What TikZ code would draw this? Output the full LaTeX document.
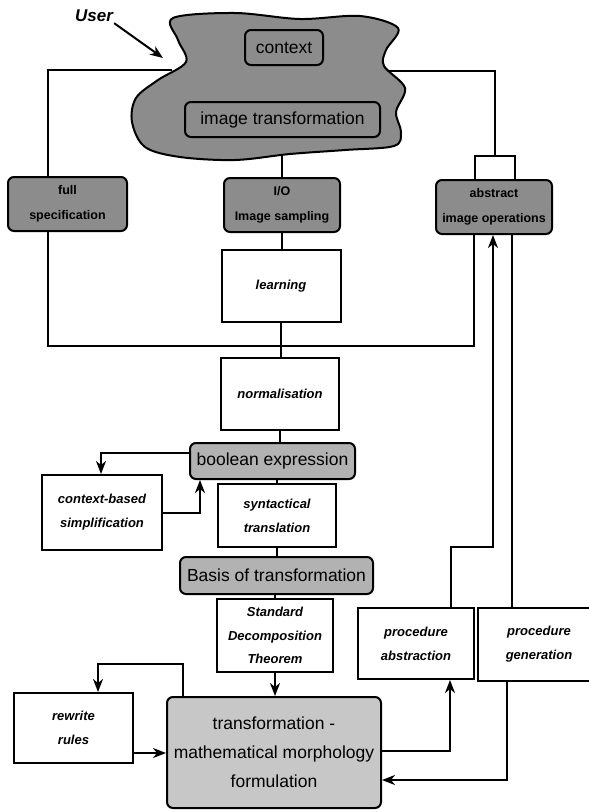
\documentclass[tikz,border=0pt]{standalone}
\usepackage{fontspec}
\setmainfont{Liberation Sans}
\usetikzlibrary{arrows.meta,calc}
\begin{document}
\begin{tikzpicture}[x=1pt,y=-1pt,
  conn/.style={line width=2pt, line join=miter},
  arr/.style={conn, -{Stealth[length=13pt,width=10pt,inset=4pt]}},
  box/.style 2 args={draw, line width=2pt, minimum width=#1pt, minimum height=#2pt, inner sep=0pt, fill=white, align=center},
  rbox/.style 2 args={box={#1}{#2}, rounded corners=6pt},
  lab/.style={font=\bfseries\itshape\fontsize{13}{24}\selectfont},
  dlab/.style={font=\bfseries\fontsize{12.5}{25}\selectfont},
  big/.style={font=\fontsize{17.5}{29}\selectfont},
  darkfill/.style={fill=black!45},
  midfill/.style={fill=black!30},
  lightfill/.style={fill=black!22}
]
\useasboundingbox (0,0) rectangle (589,812);

% cloud
\draw[line width=2pt, fill=black!45] plot[smooth cycle, tension=0.55] coordinates {
  (173,18) (235,13) (300,19) (360,16) (398,28) (386,50) (384,66) (405,88)
  (396,112) (401,132) (394,146) (345,150) (290,154) (235,160) (180,157)
  (145,147) (132,122) (136,98) (158,80) (186,62) (178,40)};
\coordinate (cl) at (172,70);
\coordinate (cr) at (388,71);
\coordinate (cb) at (282,154);

\node[rbox={78}{35}, big, fill=black!45] (ctxt) at (284,47.5) {context};
\node[rbox={195}{35}, big, fill=black!45] (imgtr) at (282.5,119.5) {image transformation};

% user
\node[font=\bfseries\itshape\fontsize{17}{20}\selectfont, inner sep=1pt] (user) at (94,16) {User};
\coordinate (ut) at (163,58);
\draw[arr] (user.south east) -- (ut);

% shaded top boxes
\node[rbox={119}{54}, dlab, darkfill] (fs) at (67.5,204) {full\\specification};
\node[rbox={116}{54}, dlab, darkfill] (io) at (282,205) {I/O\\Image sampling};
\node[rbox={116}{54}, dlab, darkfill] (abs) at (494,207) {abstract\\image operations};
\node[box={40}{24}, fill=none] (sr) at (495,168) {};

% middle column
\node[box={119}{72}, lab] (learn) at (281,286) {learning};
\node[box={118}{72}, lab] (norm) at (280,394) {normalisation};
\node[rbox={165}{36}, big, midfill] (bool) at (272.5,461) {boolean expression};
\node[box={120}{75}, lab] (ctx) at (102,512.5) {context-based\\simplification};
\node[box={118}{63}, lab] (syn) at (277,515.5) {syntactical\\translation};
\node[rbox={193}{37}, big, midfill] (basis) at (276.5,575.5) {Basis of transformation};
\node[box={116}{73}, lab, font=\bfseries\itshape\fontsize{13}{23.5}\selectfont] (sdt) at (275,635.5) {Standard\\Decomposition\\Theorem};
\node[box={116}{71}, lab] (pabs) at (416,643.5) {procedure\\abstraction};
\node[box={122}{73}, lab, text width=111pt] (pgen) at (539,644.5) {procedure\\generation};
\node[box={119}{70}, lab] (rew) at (73.5,728) {rewrite\\rules};
\node[rbox={214}{111}, big, lightfill] (trans) at (274,752.5) {transformation -\\mathematical morphology\\formulation};

% helper coordinates
\coordinate (xL) at (48,0);
\coordinate (xR) at (474,0);
\coordinate (yH) at (0,346);
\coordinate (xT) at (495,0);
\coordinate (xG) at (512,0);
\coordinate (xA) at (451,0);
\coordinate (xB) at (493,0);
\coordinate (yJ) at (0,547);
\coordinate (xC) at (450,0);
\coordinate (yC) at (0,751);
\coordinate (xD) at (507,0);
\coordinate (yD) at (0,780);
\coordinate (yE) at (0,753);
\coordinate (xF) at (183,0);
\coordinate (yF) at (0,664);
\coordinate (xF2) at (98,0);
\coordinate (yB) at (0,453);
\coordinate (xB2) at (101,0);
\coordinate (yG) at (0,513);
\coordinate (xG2) at (200,0);

% top loop
\draw[conn] (cl) -| (xL |- fs.north);
\draw[conn] (xL |- fs.south) -- (xL |- yH) -- (xR |- yH) -- (xR |- abs.south);
\draw[conn] (cr) -| (xT |- sr.north);
\draw[conn] (xG |- abs.south) -- (xG |- pgen.north);

% centre column
\draw[conn] (cb) -- (io.north);
\draw[conn] (io.south) -- (io.south |- learn.north);
\draw[conn] (learn.south) -- (learn.south |- norm.north);
\draw[conn] (norm.south) -- (norm.south |- bool.north);
\draw[conn] (syn.north |- bool.south) -- (syn.north);
\draw[conn] (syn.south) -- (syn.south |- basis.north);
\draw[conn] (sdt.north |- basis.south) -- (sdt.north);
\draw[arr] (sdt.south) -- (sdt.south |- trans.north);

% side loops
\draw[arr] (bool.west |- yB) -| (xB2 |- ctx.north);
\draw[arr] (ctx.east |- yG) -| (xG2 |- bool.south);
\draw[arr] (rew.east |- yE) -- (trans.west |- yE);
\draw[arr] (xF |- trans.north) |- (xF2 |- yF) -- (xF2 |- rew.north);
\draw[arr] (xA |- pabs.north) -- (xA |- yJ) -- (xB |- yJ) -- (xB |- abs.south);
\draw[arr] (trans.east |- yC) -| (xC |- pabs.south);
\draw[arr] (xD |- pgen.south) |- (trans.east |- yD);
\end{tikzpicture}
\end{document}
